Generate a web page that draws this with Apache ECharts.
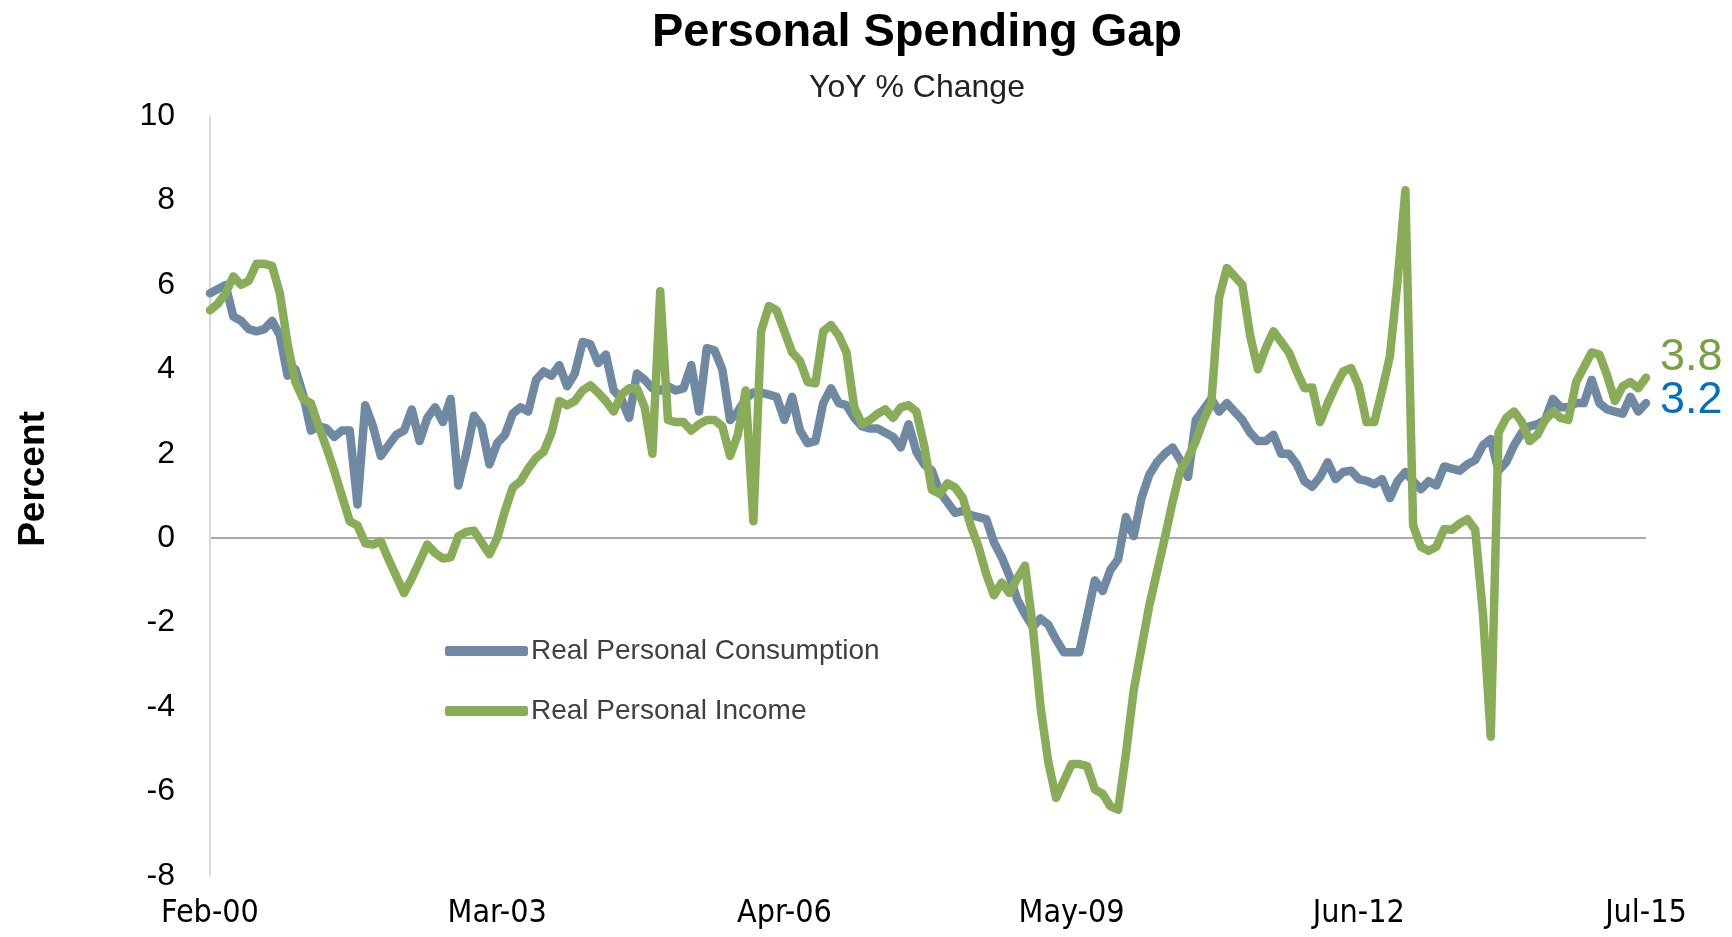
<!DOCTYPE html>
<html>
<head>
<meta charset="utf-8">
<script src="https://cdn.jsdelivr.net/npm/echarts@6/dist/echarts.min.js"></script>
<style>
  html, body { margin: 0; padding: 0; background: #fff; }
  #main { width: 1732px; height: 937px; }
</style>
</head>
<body>
<div id="main"></div>
<script>
// YoY % change, monthly, Feb-00 .. Jul-15
var consumption = [
  5.8, 5.9, 6.0, 5.25, 5.15, 4.95, 4.9, 4.95, 5.15, 4.8,
  3.85, 4.0, 3.4, 2.55, 2.65, 2.6, 2.4, 2.55, 2.55, 0.8,
  3.15, 2.65, 1.95, 2.2, 2.45, 2.55, 3.05, 2.3, 2.85, 3.1,
  2.75, 3.3, 1.25, 2.0, 2.9, 2.65, 1.75, 2.25, 2.45, 2.95,
  3.1, 3.0, 3.75, 3.95, 3.85, 4.1, 3.6, 3.9, 4.65, 4.6,
  4.15, 4.35, 3.5, 3.3, 2.85, 3.9, 3.75, 3.55, 3.5, 3.6,
  3.5, 3.55, 4.1, 3.0, 4.5, 4.45, 4.0, 2.8, 3.0, 3.3,
  3.45, 3.45, 3.4, 3.35, 2.8, 3.35, 2.55, 2.25, 2.3, 3.2,
  3.55, 3.2, 3.15, 2.85, 2.65, 2.6, 2.6, 2.5, 2.4, 2.15,
  2.7, 2.05, 1.75, 1.6, 1.1, 0.85, 0.6, 0.65, 0.55, 0.5,
  0.45, -0.1, -0.45, -0.9, -1.45, -1.8, -2.1, -1.9, -2.05, -2.4,
  -2.7, -2.7, -2.7, -1.85, -1.0, -1.25, -0.75, -0.5, 0.5, 0.05,
  0.95, 1.5, 1.8, 2.0, 2.15, 1.85, 1.45, 2.8, 3.05, 3.3,
  3.0, 3.2, 3.0, 2.8, 2.5, 2.3, 2.3, 2.45, 2.0, 2.0,
  1.75, 1.35, 1.22, 1.45, 1.8, 1.4, 1.57, 1.6, 1.4, 1.36,
  1.28, 1.4, 0.95, 1.35, 1.57, 1.35, 1.16, 1.35, 1.25, 1.7,
  1.65, 1.6, 1.75, 1.85, 2.2, 2.35, 1.6, 1.8, 2.2, 2.5,
  2.65, 2.7, 2.8, 3.3, 3.1, 3.1, 3.2, 3.2, 3.75, 3.2,
  3.05, 3.0, 2.95, 3.35, 3.0, 3.2
];
var income = [
  5.4, 5.55, 5.8, 6.2, 6.0, 6.1, 6.5, 6.5, 6.45, 5.8,
  4.6, 3.7, 3.3, 3.2, 2.65, 2.15, 1.6, 1.0, 0.4, 0.3,
  -0.12, -0.15, -0.07, -0.5, -0.9, -1.3, -0.95, -0.55, -0.15, -0.35,
  -0.48, -0.45, 0.05, 0.15, 0.18, -0.1, -0.38, 0.0, 0.65, 1.2,
  1.35, 1.65, 1.9, 2.05, 2.5, 3.25, 3.15, 3.25, 3.5, 3.62,
  3.45, 3.25, 3.0, 3.4, 3.55, 3.55, 3.1, 2.0, 5.85, 2.8,
  2.75, 2.75, 2.55, 2.7, 2.8, 2.8, 2.65, 1.95, 2.45, 3.5,
  0.4, 4.9, 5.5, 5.4, 4.9, 4.4, 4.2, 3.7, 3.67, 4.9,
  5.05, 4.8, 4.4, 3.1, 2.7, 2.8, 2.95, 3.05, 2.85, 3.1,
  3.15, 3.0, 2.2, 1.15, 1.05, 1.3, 1.2, 0.95, 0.3, -0.2,
  -0.85, -1.35, -1.05, -1.3, -0.95, -0.65, -2.1, -4.0, -5.3, -6.15,
  -5.75, -5.35, -5.35, -5.4, -5.95, -6.05, -6.35, -6.43, -5.1, -3.6,
  -2.6, -1.6, -0.8, 0.0, 0.85, 1.6, 1.9, 2.3, 2.8, 3.2,
  5.7, 6.4, 6.2, 6.0, 4.8, 4.0, 4.5, 4.9, 4.65, 4.4,
  3.95, 3.55, 3.57, 2.75, 3.2, 3.6, 3.95, 4.03, 3.6, 2.75,
  2.75, 3.5, 4.3, 6.1, 8.24, 0.3, -0.2, -0.3, -0.2, 0.22,
  0.2, 0.35, 0.45, 0.2, -1.8, -4.7, 2.5, 2.85, 3.0, 2.75,
  2.3, 2.45, 2.8, 3.0, 2.85, 2.8, 3.7, 4.05, 4.4, 4.35,
  3.85, 3.25, 3.6, 3.7, 3.55, 3.8
];
var tickLabels = ['Feb-00', 'Mar-03', 'Apr-06', 'May-09', 'Jun-12', 'Jul-15'];
var seriesNames = ['Real Personal Consumption', 'Real Personal Income'];

// month categories, starting Feb 2000
var monthNames = ['Jan', 'Feb', 'Mar', 'Apr', 'May', 'Jun', 'Jul', 'Aug', 'Sep', 'Oct', 'Nov', 'Dec'];
var months = [];
for (var k = 0; k < consumption.length; k++) {
    var m = (1 + k) % 12;
    var yr = 2000 + Math.floor((1 + k) / 12);
    months.push(monthNames[m] + '-' + String(yr).slice(2));
}

var blueLine = '#7089a3';
var greenLine = '#89ac59';

var chart = echarts.init(document.getElementById('main'));
var option = {
    backgroundColor: '#fff',
    animation: false,
    title: [{
        text: 'Personal Spending Gap',
        left: 912,
        top: 5,
        textAlign: 'center',
        textStyle: { fontFamily: 'Liberation Sans', fontWeight: 'bold', fontSize: 47, color: '#000' }
    }, {
        text: 'YoY % Change',
        left: 912,
        top: 67,
        textAlign: 'center',
        textStyle: { fontFamily: 'Liberation Sans', fontWeight: 'normal', fontSize: 32, color: '#222' }
    }],
    legend: {
        orient: 'vertical',
        left: 440,
        top: 631,
        icon: 'roundRect',
        itemWidth: 83,
        itemHeight: 10,
        itemGap: 30,
        data: seriesNames,
        textStyle: { fontFamily: 'Liberation Sans', fontSize: 28, color: '#404040', lineHeight: 30, padding: [0, 0, 0, -2] }
    },
    grid: { left: 210, right: 86, top: 116, bottom: 61, containLabel: false },
    xAxis: {
        type: 'category',
        data: months,
        boundaryGap: false,
        axisLine: { show: false, onZero: false },
        axisTick: { show: false },
        axisLabel: {
            interval: function (idx, value) { return tickLabels.indexOf(value) >= 0; },
            margin: 22,
            fontFamily: "'Liberation Sans Narrow', 'DejaVu Sans Condensed', sans-serif",
            fontSize: 32,
            color: '#000'
        },
        splitLine: { show: false }
    },
    yAxis: {
        type: 'value',
        min: -8,
        max: 10,
        interval: 2,
        name: 'Percent',
        nameLocation: 'middle',
        nameRotate: 90,
        nameGap: 158,
        nameTextStyle: { fontFamily: 'Liberation Sans', fontWeight: 'bold', fontSize: 37, color: '#000', padding: [0, 0, 0, 34] },
        axisLine: { show: true, lineStyle: { color: '#d9d9d9', width: 2 } },
        axisTick: { show: false },
        axisLabel: { margin: 35, fontFamily: 'Liberation Sans', fontSize: 32, color: '#000' },
        // only the zero line is drawn
        splitLine: {
            show: true,
            lineStyle: {
                width: 1.5,
                color: ['rgba(0,0,0,0)', 'rgba(0,0,0,0)', 'rgba(0,0,0,0)', 'rgba(0,0,0,0)', '#8c8c8c',
                        'rgba(0,0,0,0)', 'rgba(0,0,0,0)', 'rgba(0,0,0,0)', 'rgba(0,0,0,0)', 'rgba(0,0,0,0)']
            }
        }
    },
    series: [{
        name: seriesNames[0],
        type: 'line',
        data: consumption,
        showSymbol: false,
        symbol: 'none',
        color: blueLine,
        lineStyle: { width: 8.5, color: blueLine, cap: 'round', join: 'round' },
        endLabel: {
            show: true,
            formatter: function (p) { return p.value.toFixed(1); },
            distance: 14,
            offset: [0, -3],
            fontFamily: 'Liberation Sans',
            fontSize: 45,
            color: '#0070c0'
        }
    }, {
        name: seriesNames[1],
        type: 'line',
        data: income,
        showSymbol: false,
        symbol: 'none',
        color: greenLine,
        lineStyle: { width: 8.5, color: greenLine, cap: 'round', join: 'round' },
        endLabel: {
            show: true,
            formatter: function (p) { return p.value.toFixed(1); },
            distance: 14,
            offset: [0, -20],
            fontFamily: 'Liberation Sans',
            fontSize: 45,
            color: '#77a040'
        }
    }]
};
chart.setOption(option);
</script>
</body>
</html>
